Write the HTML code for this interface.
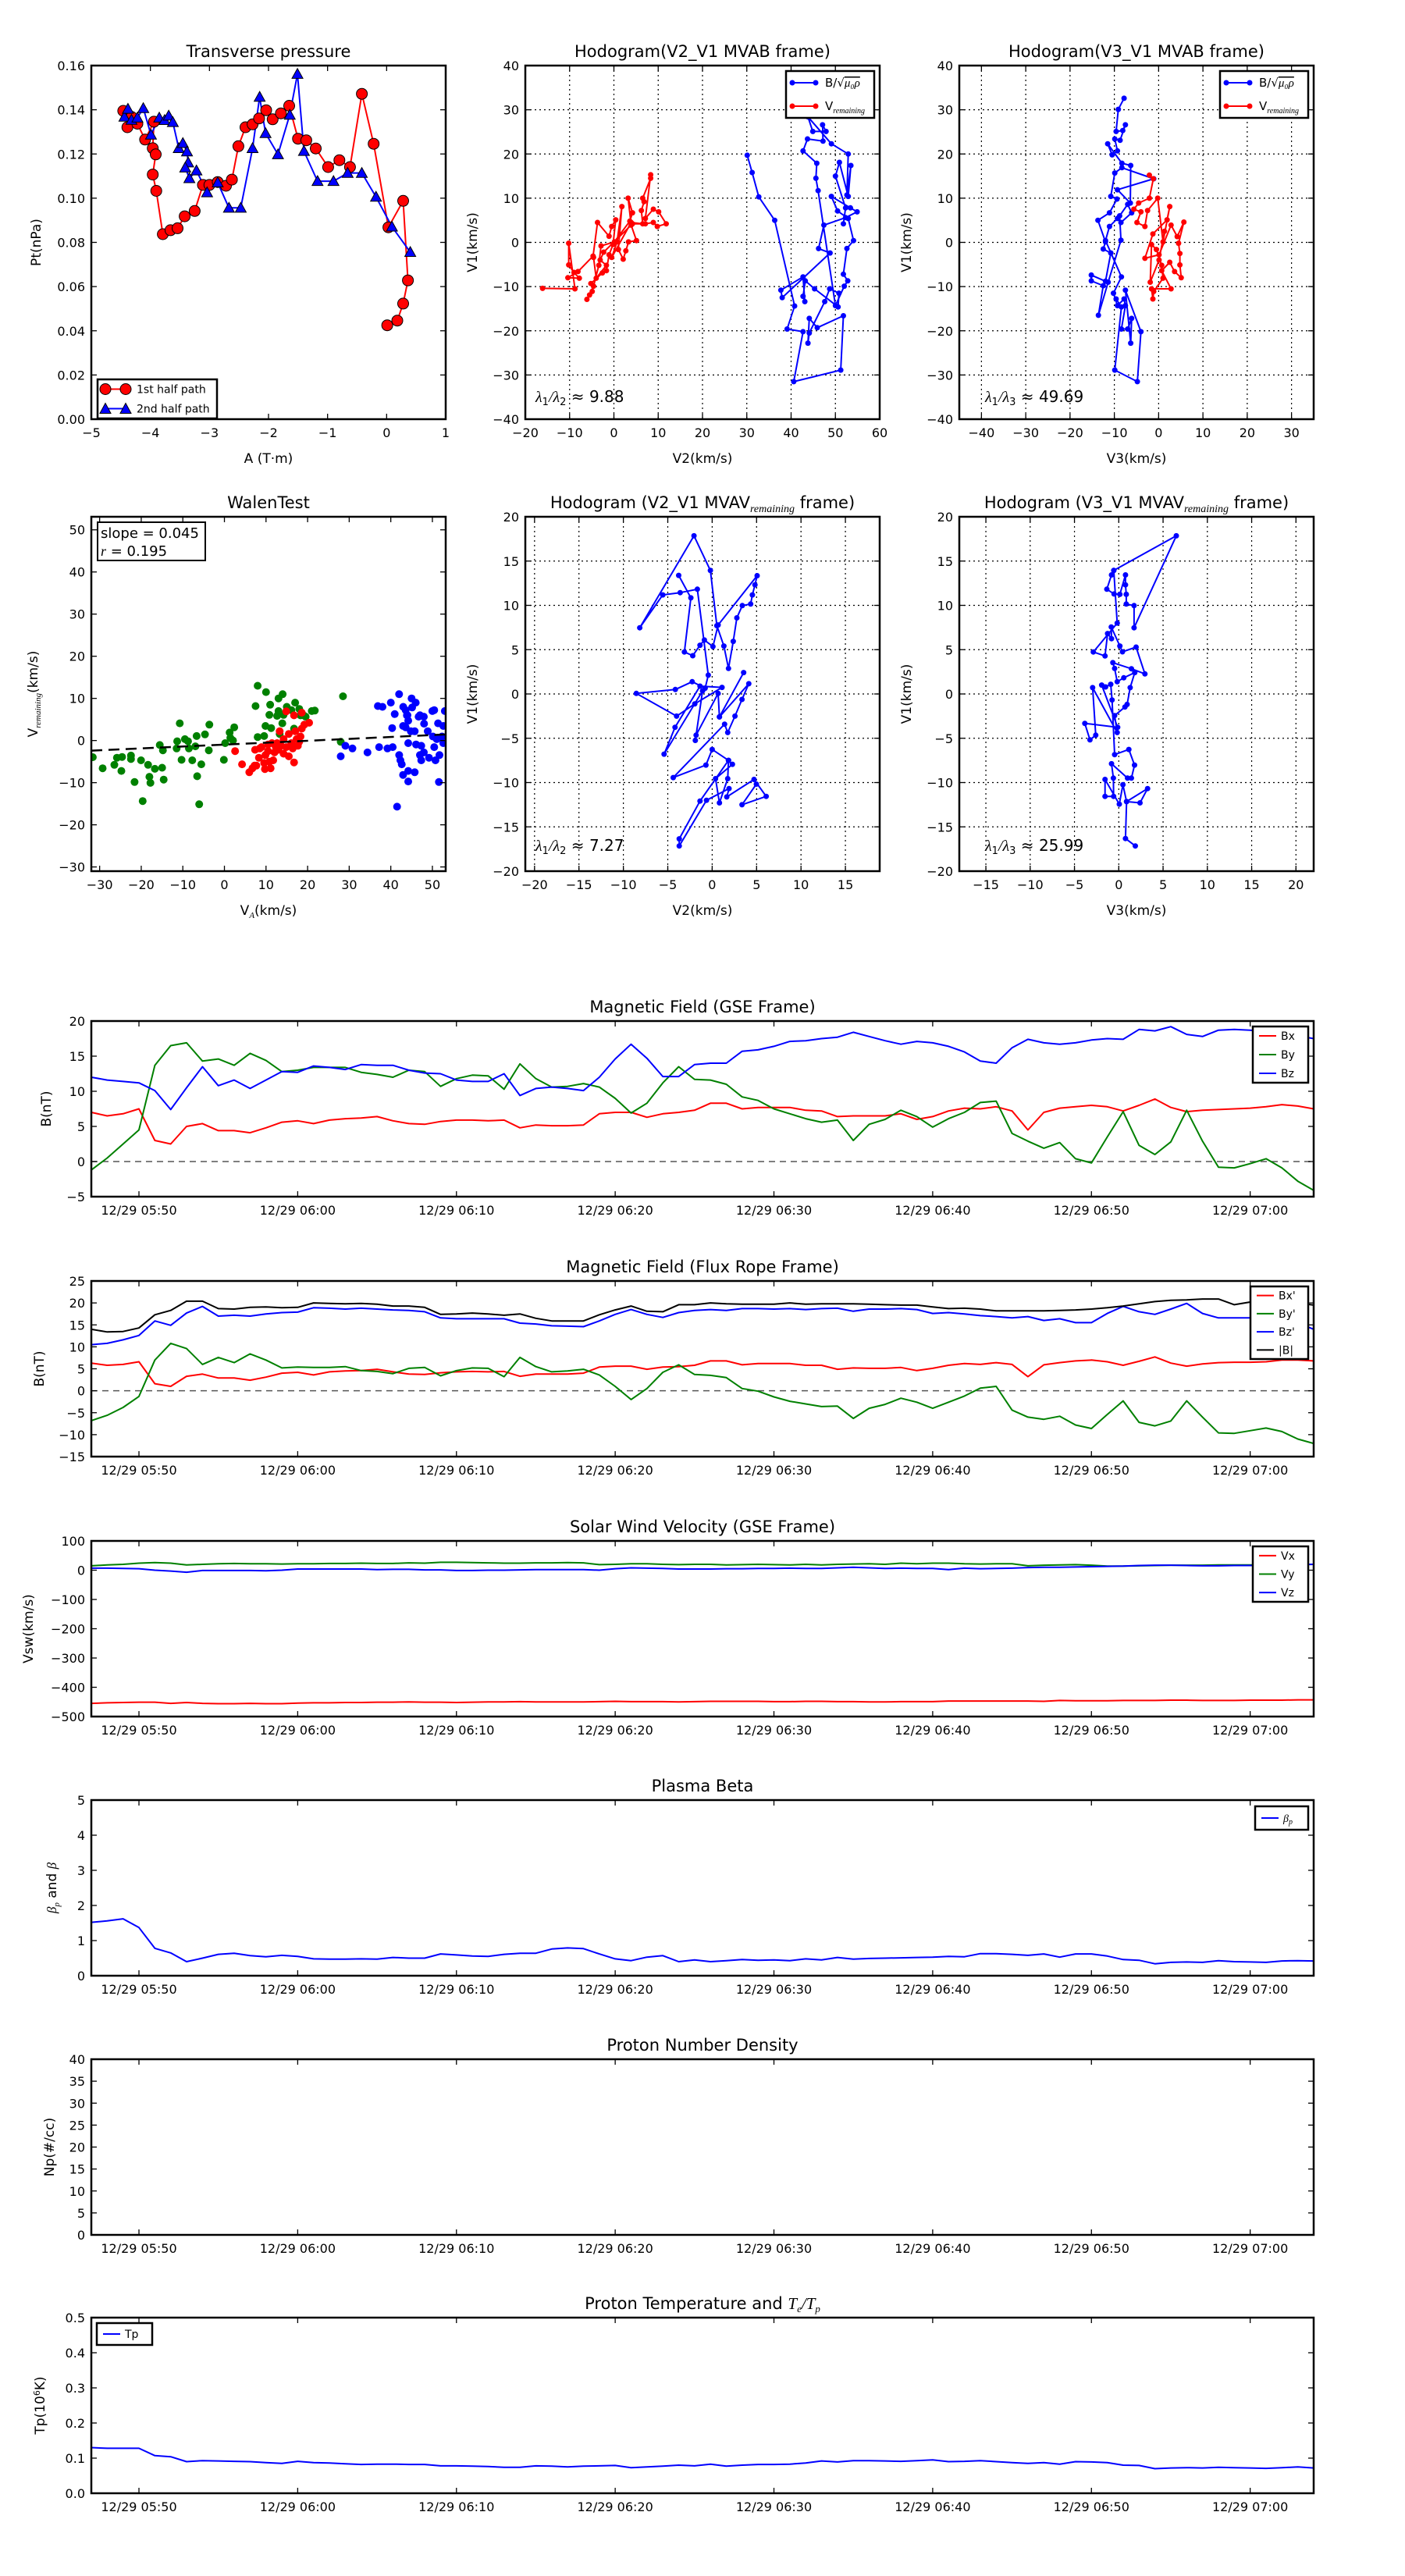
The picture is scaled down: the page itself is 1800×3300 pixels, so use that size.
<!DOCTYPE html>
<html><head><meta charset="utf-8">
<style>
html,body{margin:0;padding:0;background:#fff;}
svg{display:block;font-family:"DejaVu Sans","Liberation Sans",sans-serif;}
</style></head>
<body>
<svg id="fig" width="1800" height="3300" viewBox="0 0 1800 3300" xmlns="http://www.w3.org/2000/svg"></svg>
<script>
// ---------------- DATA ----------------
const ptRedA=[-4.46,-4.32,-4.39,-4.22,-4.09,-3.94,-3.96,-3.91,-3.96,-3.90,-3.79,-3.66,-3.54,-3.42,-3.25,-3.11,-3.0,-2.86,-2.72,-2.62,-2.51,-2.39,-2.27,-2.16,-2.04,-1.93,-1.79,-1.65,-1.50,-1.36,-1.20,-0.99,-0.80,-0.62,-0.42,-0.22,0.03,0.28,0.36,0.28,0.18,0.01];
const ptRedP=[0.1395,0.1368,0.1321,0.1337,0.1265,0.1346,0.1226,0.1198,0.1107,0.1033,0.0837,0.0855,0.0864,0.0918,0.0942,0.106,0.106,0.1073,0.1056,0.1084,0.1235,0.1321,0.1334,0.1361,0.1398,0.1357,0.1384,0.1418,0.1269,0.1262,0.1225,0.1141,0.1172,0.1141,0.1472,0.1246,0.0868,0.0988,0.0628,0.0523,0.0446,0.0425];
const ptBlueA=[-4.44,-4.38,-4.32,-4.22,-4.12,-3.99,-3.85,-3.76,-3.69,-3.62,-3.52,-3.45,-3.38,-3.36,-3.41,-3.34,-3.22,-3.04,-2.86,-2.67,-2.47,-2.27,-2.15,-2.05,-1.84,-1.64,-1.51,-1.40,-1.17,-0.90,-0.66,-0.42,-0.18,0.09,0.40];
const ptBlueP=[0.1368,0.1404,0.1354,0.1364,0.1407,0.1287,0.1364,0.1353,0.1373,0.1344,0.1226,0.1249,0.1211,0.1161,0.1138,0.109,0.1125,0.1026,0.1071,0.0956,0.0956,0.1226,0.1458,0.1294,0.1198,0.1377,0.1562,0.1213,0.1077,0.1077,0.1114,0.1114,0.1006,0.0871,0.0756];
const h2bX=[30.1,31.2,32.7,36.3,40.8,39.1,42.7,40.6,51.2,51.8,45.9,44.1,43.8,44.1,47.6,48.7,50.8,50.6,45.3,43.2,42.7,43.1,42.7,37.7,38.0,48.8,46.2,47.4,52.3,54.9,53.4,49.1,50.5,52.9,54.1,52.6,51.8,52.8,52.0,50.0,46.1,45.6,45.8,42.7,43.7,47.2,47.1,47.9,44.9,43.8,49.1,52.9,52.6,53.5,52.9,50.9,50.0,52.3,51.8];
const h2bY=[19.7,15.8,10.3,5.0,-14.4,-19.6,-20.2,-31.5,-28.9,-16.6,-19.3,-17.2,-22.8,-20.5,-13.4,-10.5,-11.5,-14.6,-10.5,-8.7,-12.2,-13.4,-7.8,-10.8,-12.5,-2.4,-1.4,3.9,5.6,6.9,7.8,10.4,7.1,5.4,0.4,-1.4,-7.2,-8.7,-9.9,-14.3,11.7,14.5,17.9,20.7,23.4,22.9,26.6,25.1,25.1,28.4,22.3,20.0,10.7,17.4,10.4,18.1,15.0,7.8,4.2];
const h2rX=[-16.1,-8.8,-10.2,-10.2,-9.0,-7.8,-10.4,-8.1,-4.7,-3.7,-1.1,-0.5,0.4,-0.2,-1.1,-1.7,-2.6,-5.2,-4.6,-6.1,-5.5,-4.9,-3.4,-2.9,0.1,3.6,4.2,3.2,3.9,5.1,3.3,2.7,2.1,1.0,1.8,0.7,-0.5,3.9,6.5,6.2,6.8,6.5,8.3,8.3,7.1,8.9,10.1,11.8,9.8,8.9,7.1,4.2,-2.3,-3.1,-1.7,-4.0,-4.6];
const h2rY=[-10.4,-10.5,-0.2,-5.1,-6.8,-8.1,-8.0,-6.6,-3.1,4.5,1.4,3.6,5.1,-0.5,-2.8,-6.4,-6.9,-9.3,-9.9,-12.9,-11.9,-11.1,-5.2,-0.8,0.1,4.8,6.7,10.0,3.9,0.4,0.1,-1.9,-3.8,-1.6,8.1,0.1,-3.4,4.5,4.2,7.2,9.2,10.0,14.5,15.3,5.4,7.5,6.9,4.2,3.6,4.5,4.2,4.2,-2.2,-4.0,-5.2,-8.1,-3.4];
const h3bX=[-7.8,-9.1,-9.6,-8.1,-7.5,-8.7,-9.9,-9.3,-10.5,-11.5,-8.3,-6.3,-6.4,-9.3,-1.1,-8.3,-9.9,-10.8,-9.4,-11.1,-13.7,-12.0,-12.5,-10.8,-12.0,-15.2,-15.2,-12.5,-13.6,-11.4,-8.5,-8.8,-7.0,-6.1,-8.5,-9.3,-11.1,-12.0,-8.4,-10.2,-9.3,-7.8,-7.5,-8.4,-7.0,-6.1,-6.3,-7.5,-4.0,-4.8,-9.9,-8.4,-9.6];
const h3bY=[32.6,30.1,25.1,25.3,26.6,23.1,23.4,20.7,19.8,22.3,17.9,17.4,8.9,11.9,14.4,16.9,15.7,10.4,9.8,6.7,5.0,0.1,-1.5,-2.4,-8.8,-7.4,-8.7,-9.8,-16.5,-9.0,0.5,6.0,8.6,6.7,4.5,5.4,3.6,0.4,-7.8,-11.5,-14.3,-12.8,-14.3,-19.6,-19.6,-17.2,-22.8,-10.8,-20.2,-31.5,-28.9,-14.6,-12.8];
const h3rX=[-2.1,-1.2,-2.1,-4.5,-5.6,-4.0,-4.9,-3.1,-2.5,-0.2,1.0,2.5,1.9,-1.3,-3.1,0.1,2.8,4.2,5.7,4.5,4.8,4.8,5.1,3.6,2.5,0.7,2.8,-1.6,-1.3,-1.1,1.0,0.7,-0.5,-1.6,-1.9,0.1,1.3];
const h3rY=[15.2,14.4,10.0,8.9,7.5,6.9,4.5,3.6,7.2,10.0,0.1,8.1,5.1,1.9,-3.6,-2.8,3.9,1.3,4.6,-0.2,-2.5,-5.1,-8.0,-6.6,-4.5,-6.4,-10.5,-10.5,-12.8,-11.1,-8.1,-5.2,-1.6,-0.5,-9.0,-4.0,2.5];
const wgX=[-31.65,-29.28,-26.47,-25.84,-24.6,-24.78,-22.47,-22.47,-21.6,-20.04,-19.66,-18.35,-18.04,-17.79,-16.73,-14.98,-14.61,-15.54,-14.8,-11.36,-11.49,-10.74,-10.3,-9.49,-8.74,-8.55,-7.74,-6.99,-6.68,-6.56,-5.56,-4.68,-3.75,-3.62,-6.06,-0.13,0.19,1.25,1.43,2.37,2.06,7.49,7.99,9.55,9.86,10.8,11.23,12.67,13.29,13.92,14.23,16.1,16.73,18.29,19.54,21.72,27.96,8,10,13,14,15,13,18,21,11,28.5,17,19];
const wgY=[-3.95,-6.59,-5.77,-4.08,-3.89,-7.21,-3.57,-4.39,-9.85,-4.7,-14.37,-5.77,-8.6,-10.04,-6.71,-6.46,-9.28,-1.06,-2.32,-0.18,-1.88,4.09,-4.58,0.32,-0.18,-1.88,-4.7,-1.38,1.07,-8.47,-5.64,1.45,-2.32,3.77,-15.12,-4.58,-0.62,1.89,0.63,3.14,0.01,8.17,0.82,1.07,3.46,6.09,2.96,5.84,1.57,4.09,6.09,7.22,2.83,5.97,5.66,7.1,-0.31,13,11.5,10,11,8,7,7.5,7,8.5,10.5,9,6];
const wrX=[2.56,4.24,5.99,7.24,8.3,8.49,8.92,9.86,9.74,10.49,10.8,11.42,12.05,12.98,13.61,14.23,14.86,15.48,16.1,16.73,17.04,17.35,17.66,18.29,18.6,19.22,20.35,18.6,16.73,14.86,13.29,11.73,11.11,9.55,7.68,6.74,14.23,12.67,15.48,17.98,16.42,10.49,12.36,7.37];
const wrY=[-2.51,-5.64,-7.53,-5.96,-4.08,-1.88,-1.56,-3.45,-6.77,-2.51,-5.02,-0.62,-2.82,-2.19,-1.25,0.32,-1.56,-3.76,-0.62,-5.2,2.2,0.32,-1.25,0.95,2.83,3.77,4.21,6.6,5.97,6.91,2.2,-4.7,-6.59,-5.33,-5.96,-6.59,-3.13,-0.62,1.57,-0.31,-1.88,-0.94,-1.56,-2.19];
const wbX=[27.96,29.09,30.77,34.39,37.2,39.2,40.45,36.89,40.95,40.32,42.01,42.32,42.63,42.95,44.19,44.19,45.75,41.51,51.56,44.19,46.07,47.32,47.0,47.32,47.94,49.19,50.44,50.75,51.69,51.06,52.31,52.62,43.57,44.82,45.75,43.88,45.13,46.69,47.94,50.44,51.37,52.62,48.88,50.13,44.19,42.95,43.57,42,45,43,40,47,50,53,44,48,38,46];
const wbY=[-3.76,-1.25,-1.88,-2.82,-1.56,-1.88,-1.56,8.17,6.28,2.96,-3.45,-4.7,-5.64,-8.16,-7.21,-9.72,-7.53,-15.69,-9.85,-0.62,-0.94,-1.25,-3.45,-4.7,-2.82,-4.08,-1.56,-4.7,-3.45,0.32,0.95,-0.62,3.14,2.2,2.2,5.97,7.85,5.66,5.66,7.22,4.09,3.46,2.2,0.95,4.71,3.46,7.22,11,10,8,9,6,7,7,6,4,8,9];
const walenFit=[0.045,-0.95];
const m2X=[-3.77,-2.4,-3.13,-2.19,-1.37,-0.88,0.09,0.67,5.06,4.82,4.53,4.33,3.39,2.78,2.37,1.84,1.32,0.53,-0.2,-2.05,-8.16,-5.56,-3.6,-1.67,-0.44,-0.79,-2.25,-4.15,-8.54,-4.01,-1.96,1.11,-1.37,-4.18,-5.41,-1.08,-1.9,-1.81,0.67,0.82,3.54,0.82,4.12,3.36,2.57,1.75,1.4,-4.39,-0.7,0.0,1.84,2.28,0.38,0.82,1.75,1.84,-1.37,-3.71,-3.71,-0.64,1.9,1.64,4.71,6.08,3.36,4.97];
const m2Y=[13.38,10.85,4.74,4.32,5.5,6.09,5.35,7.79,13.35,12.32,11.18,10.15,9.97,8.59,5.94,2.88,5.41,7.71,13.94,17.85,7.47,11.18,11.44,11.82,2.12,0.65,1.38,0.5,0.06,-2.5,-1.12,0.74,0.88,-3.76,-6.79,0.35,-5.24,-4.65,0.06,-2.59,2.41,-2.59,1.15,-0.62,-2.5,-4.35,-3.41,-9.44,-8.03,-6.26,-7.5,-7.94,-9.56,-12.29,-9.56,-7.5,-12.09,-16.35,-17.15,-12.0,-10.68,-11.62,-9.65,-11.56,-12.5,-10.18];
const m3X=[-0.56,6.49,1.73,1.73,0.85,0.85,0.76,0.76,0.12,-0.53,-1.35,-0.82,-0.56,-0.18,-2.87,-1.55,-1.26,-0.82,-0.85,0.12,0.41,1.96,2.95,1.43,-0.67,-0.47,-0.18,0.56,1.81,1.29,0.94,0.7,-0.47,-0.18,-2.95,-2.6,-3.25,-3.83,-0.12,-1.93,-1.49,-0.91,-0.76,-0.47,1.14,1.78,1.43,0.99,-0.82,-0.61,-0.58,-1.55,-1.55,0.06,0.47,0.88,2.4,3.25,0.88,0.76,1.87];
const m3Y=[13.94,17.85,7.47,9.97,10.15,11.24,12.32,13.44,11.24,11.29,11.82,13.44,13.94,8.0,4.74,4.29,6.82,6.24,7.56,5.41,4.76,5.29,2.26,2.85,3.53,2.88,1.38,1.82,2.41,0.71,-1.18,-1.47,-2.44,-4.35,0.71,-4.65,-5.18,-3.32,-3.76,1.0,0.79,1.09,-0.68,-6.85,-6.26,-8.03,-9.5,-9.5,-7.88,-9.5,-11.56,-11.56,-9.65,-12.44,-10.24,-12.15,-12.29,-10.68,-12.15,-16.32,-17.15];
const bx=[7,6.5,6.8,7.5,3,2.5,5,5.4,4.4,4.4,4.1,4.8,5.6,5.8,5.4,5.9,6.1,6.2,6.4,5.8,5.4,5.3,5.7,5.9,5.9,5.8,5.9,4.8,5.2,5.1,5.1,5.2,6.8,7.0,7.0,6.3,6.8,7.0,7.3,8.3,8.3,7.5,7.7,7.7,7.7,7.3,7.2,6.4,6.5,6.5,6.5,6.8,6.0,6.4,7.2,7.6,7.5,7.8,7.2,4.5,7.0,7.6,7.8,8.0,7.8,7.2,8.0,8.9,7.7,7.1,7.3,7.4,7.5,7.6,7.8,8.1,7.9,7.5];
const by=[-1.2,0.5,2.5,4.5,13.7,16.5,16.9,14.3,14.6,13.7,15.4,14.4,12.8,13.0,13.4,13.4,13.4,12.7,12.4,12.0,13.0,12.8,10.7,11.8,12.3,12.2,10.3,13.9,11.8,10.6,10.7,11.1,10.6,9.0,6.9,8.3,11.2,13.5,11.7,11.6,11.0,9.2,8.7,7.5,6.8,6.1,5.6,5.9,3.0,5.3,6.0,7.3,6.4,4.9,6.1,7.0,8.4,8.6,4.0,2.9,1.9,2.7,0.4,-0.2,3.5,7.1,2.3,1.0,2.8,7.3,2.9,-0.8,-0.9,-0.3,0.4,-0.9,-2.8,-4.1];
const bz=[12,11.6,11.4,11.2,10.1,7.4,10.5,13.5,10.8,11.6,10.4,11.6,12.8,12.7,13.6,13.4,13.1,13.8,13.7,13.7,13.0,12.6,12.5,11.6,11.4,11.4,12.5,9.4,10.4,10.6,10.4,10.1,12.0,14.6,16.7,14.7,12.1,12.1,13.8,14.0,14.0,15.7,15.9,16.4,17.1,17.2,17.5,17.7,18.4,17.8,17.2,16.7,17.1,16.9,16.4,15.6,14.3,14.0,16.2,17.4,16.9,16.7,16.9,17.3,17.5,17.4,18.8,18.6,19.2,18.1,17.8,18.7,18.8,18.7,18.5,18.2,17.9,17.5];
const fbx=[6.3,5.8,6.0,6.6,1.6,1.0,3.3,3.8,2.9,2.9,2.4,3.1,4.0,4.2,3.6,4.3,4.5,4.6,4.9,4.3,3.8,3.7,4.1,4.3,4.4,4.3,4.4,3.3,3.8,3.8,3.8,4.0,5.4,5.6,5.6,4.9,5.4,5.5,5.8,6.8,6.8,5.9,6.2,6.2,6.2,5.8,5.8,4.9,5.2,5.1,5.1,5.3,4.6,5.1,5.8,6.2,6.0,6.4,6.0,3.2,5.9,6.4,6.8,7.0,6.6,5.8,6.7,7.7,6.3,5.6,6.1,6.4,6.5,6.5,6.6,7.0,7.0,6.8];
const fby=[-6.8,-5.6,-3.8,-1.3,7.0,10.8,9.6,6.0,7.6,6.4,8.4,7.0,5.2,5.4,5.3,5.3,5.5,4.6,4.4,3.9,5.1,5.3,3.4,4.6,5.2,5.1,3.2,7.6,5.5,4.3,4.5,4.9,3.6,1.0,-2.0,0.5,4.2,5.9,3.7,3.5,3.0,0.5,-0.1,-1.4,-2.4,-3.0,-3.6,-3.5,-6.3,-4.0,-3.1,-1.7,-2.6,-4.0,-2.6,-1.2,0.6,1.0,-4.4,-6.0,-6.5,-5.8,-7.8,-8.6,-5.4,-2.3,-7.2,-8.0,-6.9,-2.3,-6.0,-9.6,-9.7,-9.1,-8.5,-9.3,-11.0,-12.0];
const fbz=[10.5,10.8,11.6,12.6,15.9,14.9,17.7,19.2,17.0,17.2,17.0,17.5,17.8,17.9,18.9,18.8,18.6,18.8,18.6,18.4,18.3,18.0,16.6,16.4,16.4,16.4,16.4,15.4,15.2,14.8,14.7,14.6,15.9,17.4,18.5,17.4,16.7,17.8,18.3,18.5,18.3,18.7,18.7,18.6,18.7,18.5,18.7,18.8,18.1,18.6,18.6,18.7,18.5,17.6,17.8,17.5,17.1,16.9,16.6,16.9,16.0,16.4,15.5,15.5,17.6,19.2,18.0,17.4,18.6,19.9,17.6,16.6,16.6,16.6,16.8,16.9,15.5,14.0];
const fbt=[14,13.4,13.5,14.3,17.3,18.3,20.4,20.4,18.7,18.6,19.0,19.1,18.9,19.0,20.0,19.9,19.8,19.9,19.7,19.3,19.3,19.0,17.4,17.5,17.7,17.5,17.2,17.5,16.5,15.9,15.9,15.9,17.3,18.4,19.3,18.1,18.0,19.6,19.6,20.0,19.8,19.7,19.7,19.7,20.0,19.7,19.8,19.8,19.8,19.7,19.6,19.5,19.5,19.1,18.7,18.8,18.6,18.2,18.2,18.2,18.2,18.3,18.4,18.6,18.9,19.3,19.8,20.3,20.6,20.7,20.9,20.9,19.6,20.2,20.3,20.2,20.0,19.5];
const vx=[-455,-453,-452,-451,-451,-455,-452,-455,-456,-456,-455,-456,-456,-454,-453,-453,-452,-452,-451,-451,-450,-451,-451,-452,-451,-450,-450,-449,-450,-450,-450,-450,-449,-448,-449,-449,-449,-450,-449,-448,-448,-448,-448,-449,-449,-448,-448,-449,-449,-450,-450,-449,-449,-449,-447,-447,-447,-447,-447,-447,-448,-445,-446,-446,-446,-445,-445,-445,-444,-444,-445,-445,-445,-444,-444,-444,-443,-443];
const vy=[15,18,20,24,26,24,18,20,22,23,22,22,21,22,22,23,23,24,23,23,25,24,27,27,26,25,24,24,25,25,26,25,19,20,22,22,20,19,20,20,18,19,20,19,18,20,18,20,21,22,20,24,22,24,24,22,21,22,22,15,17,18,19,17,14,14,15,16,17,17,17,18,18,18,18,19,19,20];
const vz=[7,7,6,5,0,-3,-7,-1,-1,-1,-1,-2,0,4,4,4,4,4,2,3,3,1,1,-1,-1,0,0,1,2,2,2,2,0,5,8,7,6,4,4,4,5,5,6,6,7,6,6,8,10,8,6,7,6,6,2,7,5,6,7,9,10,10,11,12,13,14,16,17,17,16,15,15,16,16,17,18,19,20];
const betaP=[1.52,1.56,1.62,1.37,0.78,0.65,0.40,0.50,0.61,0.64,0.57,0.54,0.58,0.55,0.48,0.47,0.47,0.48,0.47,0.52,0.50,0.50,0.62,0.59,0.56,0.55,0.61,0.64,0.64,0.76,0.79,0.77,0.62,0.48,0.43,0.53,0.57,0.40,0.45,0.40,0.43,0.46,0.44,0.45,0.43,0.48,0.45,0.52,0.47,0.49,0.50,0.51,0.52,0.53,0.55,0.54,0.63,0.63,0.61,0.58,0.62,0.53,0.62,0.62,0.56,0.46,0.44,0.34,0.38,0.39,0.38,0.43,0.40,0.39,0.38,0.42,0.43,0.42];
const tp=[0.13,0.128,0.128,0.128,0.107,0.104,0.09,0.093,0.092,0.091,0.09,0.087,0.085,0.091,0.087,0.086,0.084,0.082,0.083,0.083,0.082,0.082,0.078,0.078,0.077,0.076,0.074,0.074,0.078,0.077,0.075,0.077,0.078,0.079,0.073,0.075,0.077,0.08,0.078,0.083,0.077,0.08,0.082,0.082,0.083,0.086,0.092,0.089,0.093,0.093,0.092,0.091,0.093,0.095,0.09,0.091,0.093,0.09,0.087,0.085,0.087,0.083,0.09,0.089,0.087,0.08,0.079,0.07,0.072,0.073,0.072,0.074,0.073,0.072,0.071,0.073,0.075,0.072];
const timeTicks=[3,13,23,33,43,53,63,73];
const timeTickLabels=['12/29 05:50','12/29 06:00','12/29 06:10','12/29 06:20','12/29 06:30','12/29 06:40','12/29 06:50','12/29 07:00'];

// ---------------- DRAWING ----------------
const NS='http://www.w3.org/2000/svg';
const fig=document.getElementById('fig');
function mk(tag,attrs,parent){const e=document.createElementNS(NS,tag);for(const k in attrs)e.setAttribute(k,attrs[k]);(parent||fig).appendChild(e);return e;}
const fmtNum=(v,d)=>{const s=Math.abs(v).toFixed(d);return (v<0?'\u2212':'')+s;};
let clipN=0;
function axes(o){
  const g=mk('g',{});
  
  
  const sx=v=>o.x+(v-o.xmin)/(o.xmax-o.xmin)*o.w;
  const sy=v=>o.y+o.h-(v-o.ymin)/(o.ymax-o.ymin)*o.h;
  const id='clip'+(clipN++);
  const cp=mk('clipPath',{id:id},g);
  mk('rect',{x:o.x,y:o.y,width:o.w,height:o.h},cp);
  if(o.grid){
    o.xticks.forEach(t=>{if(t>o.xmin&&t<o.xmax){const l=mk('line',{x1:sx(t),x2:sx(t),y1:o.y,y2:o.y+o.h,stroke:'#000','stroke-width':1.2,'stroke-dasharray':'2,4'},g);}});
    o.yticks.forEach(t=>{if(t>o.ymin&&t<o.ymax){const l=mk('line',{y1:sy(t),y2:sy(t),x1:o.x,x2:o.x+o.w,stroke:'#000','stroke-width':1.2,'stroke-dasharray':'2,4'},g);}});
  }
  const data=mk('g',{'clip-path':'url(#'+id+')'},g);
  return {sx,sy,g,data,o};
}
function finish(A){
  const o=A.o,g=A.g;
  o.xticks.forEach((t,i)=>{
    const X=A.sx(t);
    mk('line',{x1:X,x2:X,y1:o.y+o.h,y2:o.y+o.h-7,stroke:'#000','stroke-width':1.3},g);
    mk('line',{x1:X,x2:X,y1:o.y,y2:o.y+7,stroke:'#000','stroke-width':1.3},g);
    const tx=mk('text',{x:X,y:o.y+o.h+23,'font-size':16,'text-anchor':'middle',fill:'#000'},g);
    tx.textContent=o.xlabels?o.xlabels[i]:fmtNum(t,o.xdec||0);
    
    
  });
  o.yticks.forEach((t,i)=>{
    const Y=A.sy(t);
    mk('line',{x1:o.x,x2:o.x+7,y1:Y,y2:Y,stroke:'#000','stroke-width':1.3},g);
    mk('line',{x1:o.x+o.w,x2:o.x+o.w-7,y1:Y,y2:Y,stroke:'#000','stroke-width':1.3},g);
    const ty=mk('text',{x:o.x-8,y:Y+6,'font-size':16,'text-anchor':'end',fill:'#000'},g);
    ty.textContent=fmtNum(t,o.ydec||0);
    
    
  });
  const fr=mk('rect',{x:o.x,y:o.y,width:o.w,height:o.h,fill:'none',stroke:'#000','stroke-width':2.5},g);
  
  
  const ti=mk('text',{x:o.x+o.w/2,y:o.y-11,'font-size':21,'text-anchor':'middle',fill:'#000'},g);
  ti.innerHTML=o.title;
  
  
  if(o.xtitle){
    const xt=mk('text',{x:o.x+o.w/2,y:o.y+o.h+56,'font-size':17,'text-anchor':'middle',fill:'#000'},g);
    xt.innerHTML=o.xtitle;
    
    
  }
  if(o.ytitle){
    const yt=mk('text',{x:o.ylx,y:o.y+o.h/2,'font-size':17,'text-anchor':'middle',fill:'#000',transform:'rotate(-90 '+o.ylx+' '+(o.y+o.h/2)+')'},g);
    yt.innerHTML=o.ytitle;
    
    
  }
}
function line(A,xs,ys,color,name,w){
  const pts=xs.map((x,i)=>A.sx(x).toFixed(1)+','+A.sy(ys[i]).toFixed(1)).join(' ');
  const p=mk('polyline',{points:pts,fill:'none',stroke:color,'stroke-width':w||2,'stroke-linejoin':'round'},A.data);
  
  
  return p;
}
function dots(A,xs,ys,color,r,name,strokeC){
  const g=mk('g',{},A.data);
  
  
  xs.forEach((x,i)=>{mk('circle',{cx:A.sx(x).toFixed(1),cy:A.sy(ys[i]).toFixed(1),r:r,fill:color,stroke:strokeC||'none','stroke-width':1},g);});
}
function tris(A,xs,ys,color,s,name){
  const g=mk('g',{},A.data);
  
  
  xs.forEach((x,i)=>{const X=A.sx(x),Y=A.sy(ys[i]);mk('polygon',{points:(X)+','+(Y-s)+' '+(X-s)+','+(Y+s*0.8)+' '+(X+s)+','+(Y+s*0.8),fill:color,stroke:'#000','stroke-width':1},g);});
}
function legend(x,y,w,h,entries,name,fs,marker){
  const g=mk('g',{});
  
  
  mk('rect',{x:x,y:y,width:w,height:h,fill:'#fff',stroke:'#000','stroke-width':2.5},g);
  const step=h/entries.length;
  entries.forEach((e,i)=>{
    const cy=y+step*(i+0.5);
    mk('line',{x1:x+8,x2:x+8+(marker?30:22),y1:cy,y2:cy,stroke:e.c,'stroke-width':2},g);
    if(marker==='circle'){[x+8,x+38].forEach(mx=>mk('circle',{cx:mx,cy:cy,r:e.r||3.5,fill:e.c,stroke:e.s||'none'},g));}
    const t=mk('text',{x:x+(marker?50:36),y:cy+5,'font-size':fs||14,fill:'#000'},g);
    t.innerHTML=e.t;
    
    
  });
  return g;
}
function note(x,y,html,name,fs){
  const t=mk('text',{x:x,y:y,'font-size':fs||20,fill:'#000'});
  t.innerHTML=html;
  
  
}
const IT='font-family="Liberation Serif,DejaVu Serif,serif" font-style="italic"';
const lam=(a,b)=>'<tspan '+IT+'>λ</tspan><tspan font-size="13" dy="4">'+a+'</tspan><tspan dy="-4" '+IT+'>/λ</tspan><tspan font-size="13" dy="4">'+b+'</tspan><tspan dy="-4"> ≈ </tspan>';
const BLEG='B/√<tspan '+IT+' text-decoration="overline">μ₀ρ</tspan>';
const VLEG='V<tspan '+IT+' font-size="10" dy="4">remaining</tspan>';
const range=(a,b,s)=>{const r=[];for(let v=a;v<=b+1e-9;v+=s)r.push(Math.round(v*1000)/1000);return r;};

// ---- Row 1 ----
let A=axes({name:'transverse-pressure-chart',x:117,y:84,w:454,h:453,xmin:-5,xmax:1,ymin:0,ymax:0.16,xticks:range(-5,1,1),yticks:range(0,0.16,0.02),ydec:2,title:'Transverse pressure',xtitle:'A (T·m)',ytitle:'Pt(nPa)',ylx:52});
line(A,ptRedA,ptRedP,'#f00','series-1st-half-line');
line(A,ptBlueA,ptBlueP,'#00f','series-2nd-half-line');
dots(A,ptRedA,ptRedP,'#f00',7,'series-1st-half-markers','#000');
tris(A,ptBlueA,ptBlueP,'#00f',7,'series-2nd-half-markers');
finish(A);
(function(){const g=legend(125,486,153,50,[{c:'#f00',t:'1st half path'},{c:'#00f',t:'2nd half path'}],'legend-pressure',14,null);
 [125+10,125+36].forEach(mx=>{mk('circle',{cx:mx,cy:498.5,r:7,fill:'#f00',stroke:'#000'},g);mk('polygon',{points:mx+','+(523.5-7)+' '+(mx-7)+','+(523.5+6)+' '+(mx+7)+','+(523.5+6),fill:'#00f',stroke:'#000'},g);});
 g.querySelectorAll('line').forEach(l=>{l.setAttribute('x1',125+10);l.setAttribute('x2',125+36);});
 g.querySelectorAll('text').forEach(t=>t.setAttribute('x',125+50));})();

A=axes({name:'hodogram-v2-v1-mvab',x:673,y:84,w:454,h:453,xmin:-20,xmax:60,ymin:-40,ymax:40,xticks:range(-20,60,10),yticks:range(-40,40,10),grid:true,title:'Hodogram(V2_V1 MVAB frame)',xtitle:'V2(km/s)',ytitle:'V1(km/s)',ylx:611});
line(A,h2bX,h2bY,'#00f','series-b-alfven');dots(A,h2bX,h2bY,'#00f',3.5,'series-b-alfven-markers');
line(A,h2rX,h2rY,'#f00','series-v-remaining');dots(A,h2rX,h2rY,'#f00',3.5,'series-v-remaining-markers');
finish(A);
legend(1007,91,113,60,[{c:'#00f',t:BLEG},{c:'#f00',t:VLEG}],'legend-hodogram-v2',15,'circle');
note(686,515,lam('1','2')+'9.88','eigen-ratio-v2');

A=axes({name:'hodogram-v3-v1-mvab',x:1229,y:84,w:454,h:453,xmin:-45,xmax:35,ymin:-40,ymax:40,xticks:range(-40,30,10),yticks:range(-40,40,10),grid:true,title:'Hodogram(V3_V1 MVAB frame)',xtitle:'V3(km/s)',ytitle:'V1(km/s)',ylx:1167});
line(A,h3bX,h3bY,'#00f','series-b-alfven');dots(A,h3bX,h3bY,'#00f',3.5,'series-b-alfven-markers');
line(A,h3rX,h3rY,'#f00','series-v-remaining');dots(A,h3rX,h3rY,'#f00',3.5,'series-v-remaining-markers');
finish(A);
legend(1563,91,113,60,[{c:'#00f',t:BLEG},{c:'#f00',t:VLEG}],'legend-hodogram-v3',15,'circle');
note(1262,515,lam('1','3')+'49.69','eigen-ratio-v3');

// ---- Row 2 ----
A=axes({name:'walen-test-chart',x:117,y:662,w:454,h:454,xmin:-32,xmax:53.2,ymin:-31,ymax:53.1,xticks:range(-30,50,10),yticks:range(-30,50,10),title:'WalenTest',xtitle:'V<tspan '+IT+' font-size="11" dy="4">A</tspan><tspan dy="-4">(km/s)</tspan>',ytitle:'V<tspan '+IT+' font-size="11" dy="4">remaining</tspan><tspan dy="-4">(km/s)</tspan>',ylx:48});
dots(A,wgX,wgY,'#008000',5,'series-green-points');
dots(A,wrX,wrY,'#f00',5,'series-red-points');
dots(A,wbX,wbY,'#00f',5,'series-blue-points');
(function(){const p=line(A,[-32,53.2],[walenFit[0]*-32+walenFit[1],walenFit[0]*53.2+walenFit[1]],'#000','walen-fit-line',2.5);p.setAttribute('stroke-dasharray','14,8');})();
finish(A);
(function(){const g=mk('g',{});
mk('rect',{x:125,y:669,width:138,height:49,fill:'#fff',stroke:'#000','stroke-width':2},g);
const t1=mk('text',{x:129,y:689,'font-size':18,fill:'#000'},g);t1.textContent='slope = 0.045';
const t2=mk('text',{x:129,y:712,'font-size':18,fill:'#000'},g);t2.innerHTML='<tspan '+IT+'>r</tspan> = 0.195';})();

const MVT='<tspan '+IT+' font-size="14" dy="5">remaining</tspan><tspan dy="-5"> frame)</tspan>';
A=axes({name:'hodogram-v2-v1-mvav',x:673,y:662,w:454,h:454,xmin:-21.04,xmax:18.86,ymin:-20,ymax:20,xticks:range(-20,15,5),yticks:range(-20,20,5),grid:true,title:'Hodogram (V2_V1 MVAV'+MVT,xtitle:'V2(km/s)',ytitle:'V1(km/s)',ylx:611});
line(A,m2X,m2Y,'#00f','series-b-alfven');dots(A,m2X,m2Y,'#00f',3.5,'series-b-alfven-markers');
finish(A);
note(686,1090,lam('1','2')+'7.27','eigen-ratio-v2-mvav');

A=axes({name:'hodogram-v3-v1-mvav',x:1229,y:662,w:454,h:454,xmin:-18.0,xmax:22.0,ymin:-20,ymax:20,xticks:range(-15,20,5),yticks:range(-20,20,5),grid:true,title:'Hodogram (V3_V1 MVAV'+MVT,xtitle:'V3(km/s)',ytitle:'V1(km/s)',ylx:1167});
line(A,m3X,m3Y,'#00f','series-b-alfven');dots(A,m3X,m3Y,'#00f',3.5,'series-b-alfven-markers');
finish(A);
note(1262,1090,lam('1','3')+'25.99','eigen-ratio-v3-mvav');

// ---- Time series ----
const tIdx=(arr)=>arr.map((_,i)=>i);
function tpanel(name,top,ymin,ymax,yticks,ydec,title,ytitle,ylx){
  return axes({name:name,x:117,y:top,w:1566,h:225,xmin:0,xmax:77,ymin:ymin,ymax:ymax,xticks:timeTicks,xlabels:timeTickLabels,yticks:yticks,ydec:ydec,title:title,ytitle:ytitle,ylx:ylx});
}
A=tpanel('magnetic-field-gse-chart',1308,-5,20,range(-5,20,5),0,'Magnetic Field (GSE Frame)','B(nT)',65);
(function(){const p=line(A,[0,77],[0,0],'#555','zero-line',1.5);p.setAttribute('stroke-dasharray','8,6');})();
line(A,tIdx(bx),bx,'#f00','series-bx');line(A,tIdx(by),by,'#008000','series-by');line(A,tIdx(bz),bz,'#00f','series-bz');
finish(A);
legend(1605,1315,71,72,[{c:'#f00',t:'Bx'},{c:'#008000',t:'By'},{c:'#00f',t:'Bz'}],'legend-gse',14,null);

A=tpanel('magnetic-field-flux-rope-chart',1641,-15,25,range(-15,25,5),0,'Magnetic Field (Flux Rope Frame)','B(nT)',56);
(function(){const p=line(A,[0,77],[0,0],'#555','zero-line',1.5);p.setAttribute('stroke-dasharray','8,6');})();
line(A,tIdx(fbx),fbx,'#f00','series-bx-prime');line(A,tIdx(fby),fby,'#008000','series-by-prime');line(A,tIdx(fbz),fbz,'#00f','series-bz-prime');line(A,tIdx(fbt),fbt,'#000','series-b-total');
finish(A);
legend(1602,1648,74,93,[{c:'#f00',t:"Bx'"},{c:'#008000',t:"By'"},{c:'#00f',t:"Bz'"},{c:'#000',t:'|B|'}],'legend-flux-rope',14,null);

A=tpanel('solar-wind-velocity-chart',1974,-500,100,range(-500,100,100),0,'Solar Wind Velocity (GSE Frame)','Vsw(km/s)',42);
line(A,tIdx(vx),vx,'#f00','series-vx');line(A,tIdx(vy),vy,'#008000','series-vy');line(A,tIdx(vz),vz,'#00f','series-vz');
finish(A);
legend(1605,1981,71,71,[{c:'#f00',t:'Vx'},{c:'#008000',t:'Vy'},{c:'#00f',t:'Vz'}],'legend-velocity',14,null);

A=tpanel('plasma-beta-chart',2306,0,5,range(0,5,1),0,'Plasma Beta','<tspan '+IT+'>β</tspan><tspan '+IT+' font-size="11" dy="4">p</tspan><tspan dy="-4"> and </tspan><tspan '+IT+'>β</tspan>',72);
line(A,tIdx(betaP),betaP,'#00f','series-beta-p');
finish(A);
legend(1608,2314,68,30,[{c:'#00f',t:'<tspan '+IT+'>β</tspan><tspan '+IT+' font-size="10" dy="3">p</tspan>'}],'legend-beta',14,null);

A=tpanel('proton-density-chart',2638,0,40,range(0,40,5),0,'Proton Number Density','Np(#/cc)',69);
finish(A);

A=tpanel('proton-temperature-chart',2969,0,0.5,range(0,0.5,0.1),1,'Proton Temperature and <tspan '+IT+'>T</tspan><tspan '+IT+' font-size="13" dy="4">e</tspan><tspan dy="-4" '+IT+'>/T</tspan><tspan '+IT+' font-size="13" dy="4">p</tspan>','Tp(10<tspan font-size="11" dy="-6">6</tspan><tspan dy="6">K)</tspan>',57);
line(A,tIdx(tp),tp,'#00f','series-tp');
finish(A);
legend(124,2976,71,28,[{c:'#00f',t:'Tp'}],'legend-tp',14,null);
</script>
</body></html>
